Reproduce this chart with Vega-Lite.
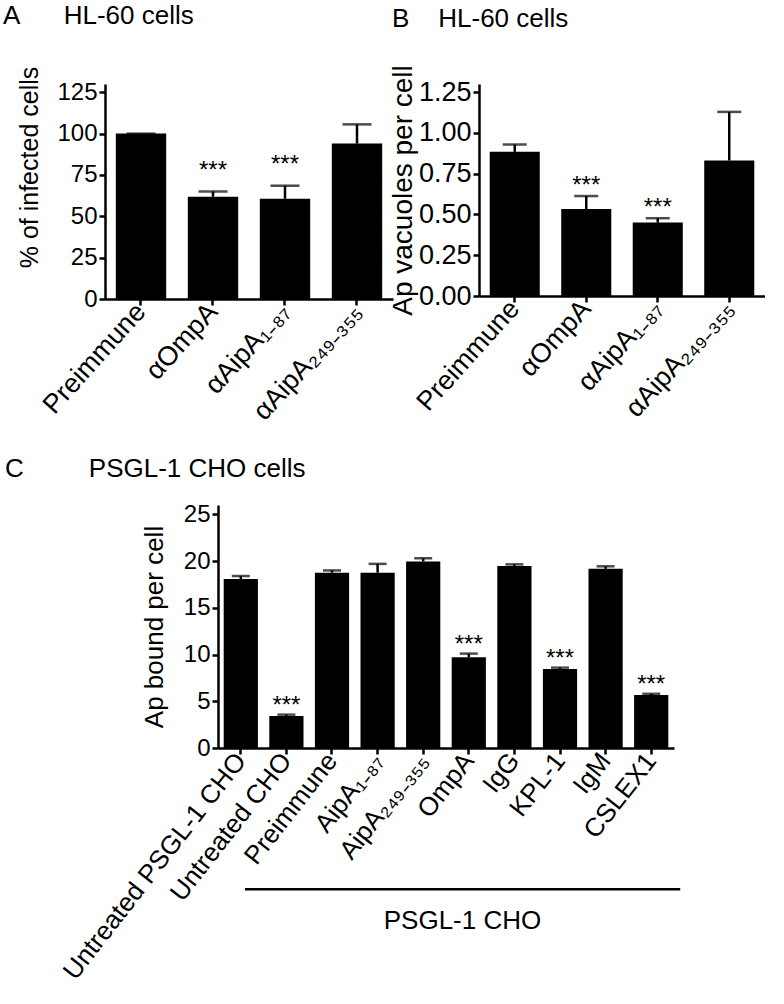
{
  "$schema": "https://vega.github.io/schema/vega-lite/v6.json",
  "background": "white",
  "padding": {"left": 3, "top": 2, "right": 0, "bottom": 0},
  "config": {
    "font": "Liberation Sans",
    "view": {"stroke": null},
    "axis": {"domainColor": "black", "domainWidth": 2.5, "tickColor": "black", "tickWidth": 2.5, "tickSize": 6, "labelColor": "black", "titleColor": "black", "titleFontWeight": "normal", "grid": false, "labelFont": "Liberation Sans", "titleFont": "Liberation Sans", "labelPadding": 2, "labelLimit": 500},
    "title": {"font": "Liberation Sans", "fontWeight": "normal", "fontSize": 26, "anchor": "start", "frame": "group", "color": "black"}
  },
  "datasets": {
    "hl60_infected": [
      {"group": "Preimmune", "mean": 100, "upper": 100, "sig": ""},
      {"group": "αOmpA", "mean": 61.8, "upper": 65, "sig": "***"},
      {"group": "αAipA₁₋₈₇", "mean": 60.6, "upper": 68.5, "sig": "***"},
      {"group": "αAipA₂₄₉₋₃₅₅", "mean": 94, "upper": 105.6, "sig": ""}
    ],
    "hl60_vacuoles": [
      {"group": "Preimmune", "mean": 0.884, "upper": 0.929, "sig": ""},
      {"group": "αOmpA", "mean": 0.533, "upper": 0.613, "sig": "***"},
      {"group": "αAipA₁₋₈₇", "mean": 0.45, "upper": 0.477, "sig": "***"},
      {"group": "αAipA₂₄₉₋₃₅₅", "mean": 0.831, "upper": 1.129, "sig": ""}
    ],
    "cho": [
      {"group": "Untreated PSGL-1 CHO", "mean": 18.07, "upper": 18.4, "sig": ""},
      {"group": "Untreated CHO", "mean": 3.43, "upper": 3.57, "sig": "***"},
      {"group": "Preimmune", "mean": 18.76, "upper": 19.0, "sig": ""},
      {"group": "AipA₁₋₈₇", "mean": 18.76, "upper": 19.7, "sig": ""},
      {"group": "AipA₂₄₉₋₃₅₅", "mean": 19.96, "upper": 20.3, "sig": ""},
      {"group": "OmpA", "mean": 9.7, "upper": 10.1, "sig": "***"},
      {"group": "IgG", "mean": 19.48, "upper": 19.65, "sig": ""},
      {"group": "KPL-1", "mean": 8.44, "upper": 8.6, "sig": "***"},
      {"group": "IgM", "mean": 19.17, "upper": 19.44, "sig": ""},
      {"group": "CSLEX1", "mean": 5.66, "upper": 5.8, "sig": "***"}
    ],
    "bracket": [
      {"from": "Preimmune", "to": "CSLEX1", "level": -15.1}
    ]
  },
  "columns": 2,
  "align": "none",
  "bounds": "flush",
  "spacing": {"row": 206, "column": -195},
  "concat": [
    {
      "width": 288,
      "height": 215,
      "title": {"text": "A\u00a0\u00a0\u00a0\u00a0\u00a0\u00a0HL-60 cells", "offset": 34, "dx": -102},
      "data": {"name": "hl60_infected"},
      "encoding": {
        "x": {"field": "group", "type": "nominal", "sort": null, "scale": {"paddingInner": 0.3, "paddingOuter": 0.15},
              "axis": {"title": null, "labelAngle": -48, "labelFontSize": 27, "labelAlign": "right", "labelBaseline": "middle"}}
      },
      "layer": [
        {"mark": {"type": "bar", "color": "black"},
         "encoding": {"y": {"field": "mean", "type": "quantitative", "scale": {"domain": [0, 125]},
           "axis": {"values": [0, 25, 50, 75, 100, 125], "title": "%  of infected cells", "labelFontSize": 24, "titleFontSize": 25, "titlePadding": 14, "titleY": 83}}}},
        {"mark": {"type": "rule", "strokeWidth": 2.5, "color": "black"},
         "encoding": {"y": {"field": "mean", "type": "quantitative"}, "y2": {"field": "upper"}}},
        {"mark": {"type": "tick", "color": "black", "thickness": 2.5, "size": 29},
         "encoding": {"y": {"field": "upper", "type": "quantitative"}}},
        {"mark": {"type": "text", "fontSize": 24, "dy": -14, "baseline": "alphabetic", "color": "black"},
         "encoding": {"y": {"field": "upper", "type": "quantitative"}, "text": {"field": "sig"}}}
      ]
    },
    {
      "width": 286,
      "height": 212,
      "title": {"text": "B\u00a0\u00a0\u00a0\u00a0HL-60 cells", "offset": 33, "dx": -87},
      "data": {"name": "hl60_vacuoles"},
      "encoding": {
        "x": {"field": "group", "type": "nominal", "sort": null, "scale": {"paddingInner": 0.3, "paddingOuter": 0.15},
              "axis": {"title": null, "labelAngle": -48, "labelFontSize": 27, "labelAlign": "right", "labelBaseline": "middle"}}
      },
      "layer": [
        {"mark": {"type": "bar", "color": "black"},
         "encoding": {"y": {"field": "mean", "type": "quantitative", "scale": {"domain": [0, 1.25]},
           "axis": {"values": [0, 0.25, 0.5, 0.75, 1, 1.25], "format": ".2f", "title": "Ap vacuoles per cell", "labelFontSize": 27, "titleFontSize": 28, "titlePadding": 1}}}},
        {"mark": {"type": "rule", "strokeWidth": 2.5, "color": "black"},
         "encoding": {"y": {"field": "mean", "type": "quantitative"}, "y2": {"field": "upper"}}},
        {"mark": {"type": "tick", "color": "black", "thickness": 2.5, "size": 24},
         "encoding": {"y": {"field": "upper", "type": "quantitative"}}},
        {"mark": {"type": "text", "fontSize": 24, "dy": -3, "baseline": "alphabetic", "color": "black"},
         "encoding": {"y": {"field": "upper", "type": "quantitative"}, "text": {"field": "sig"}}}
      ]
    },
    {
      "width": 569,
      "height": 243,
      "title": {"text": "C\u00a0\u00a0\u00a0\u00a0\u00a0\u00a0\u00a0\u00a0\u00a0PSGL-1 CHO cells", "offset": 20, "dx": -100},
      "layer": [
        {
          "data": {"name": "cho"},
          "encoding": {
            "x": {"field": "group", "type": "nominal", "sort": null, "scale": {"paddingInner": 0.25, "paddingOuter": 0.125, "range": [113, 569]},
                  "axis": {"title": "PSGL-1 CHO", "titleFontSize": 26, "titleX": 357, "titleY": 180, "titleBaseline": "alphabetic", "labelAngle": -52, "labelFontSize": 26, "labelAlign": "right", "labelBaseline": "middle"}}
          },
          "layer": [
            {"mark": {"type": "bar", "color": "black"},
             "encoding": {"y": {"field": "mean", "type": "quantitative", "scale": {"domain": [0, 25]},
               "axis": {"values": [0, 5, 10, 15, 20, 25], "offset": -113, "title": "Ap bound per cell", "labelFontSize": 24, "titleFontSize": 26, "titlePadding": 16}}}},
            {"mark": {"type": "rule", "strokeWidth": 2.5, "color": "black"},
             "encoding": {"y": {"field": "mean", "type": "quantitative"}, "y2": {"field": "upper"}}},
            {"mark": {"type": "tick", "color": "black", "thickness": 2.5, "size": 18},
             "encoding": {"y": {"field": "upper", "type": "quantitative"}}},
            {"mark": {"type": "text", "fontSize": 24, "dy": -2, "baseline": "alphabetic", "color": "black"},
             "encoding": {"y": {"field": "upper", "type": "quantitative"}, "text": {"field": "sig"}}}
          ]
        },
        {
          "data": {"name": "bracket"},
          "mark": {"type": "rule", "strokeWidth": 2.5, "color": "black", "xOffset": -87, "x2Offset": 29},
          "encoding": {
            "x": {"field": "from", "type": "nominal", "sort": null},
            "x2": {"field": "to"},
            "y": {"field": "level", "type": "quantitative"}
          }
        }
      ]
    }
  ]
}
